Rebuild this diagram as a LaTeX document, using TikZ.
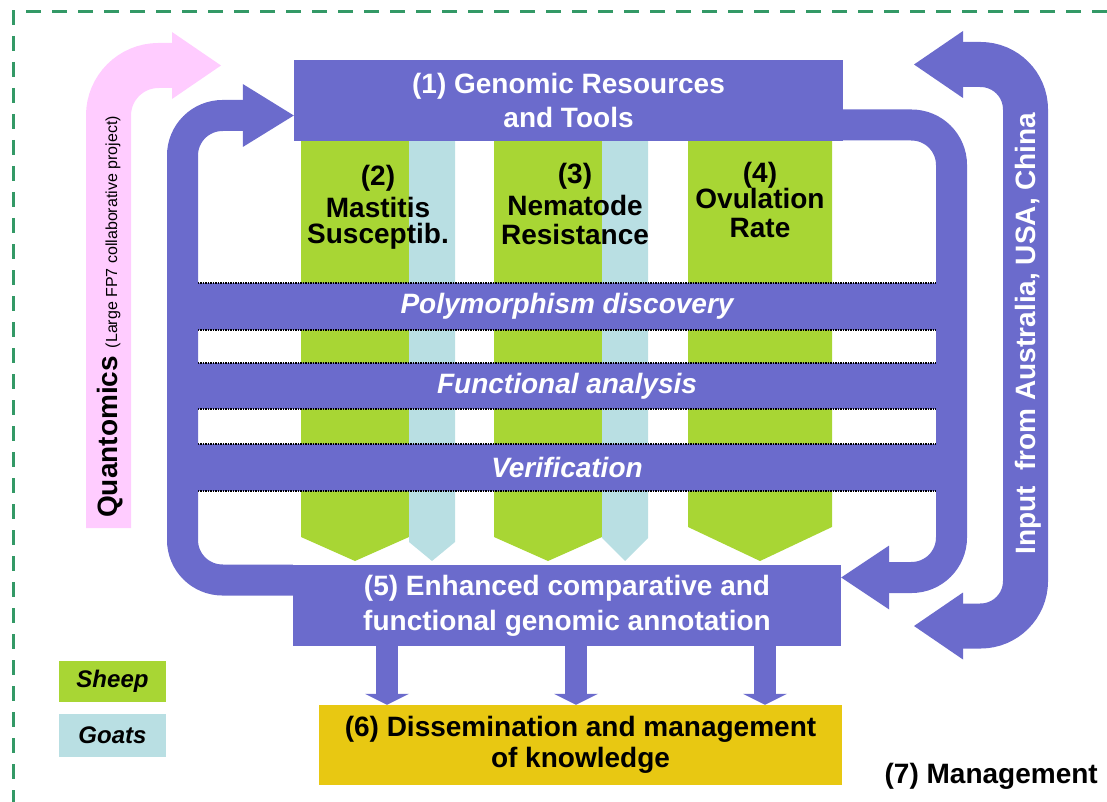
\documentclass[tikz,border=0pt]{standalone}
\usepackage{fontspec}
\setmainfont{Liberation Sans}
\usetikzlibrary{arrows.meta, positioning}

\definecolor{loopblue}{RGB}{107,107,204}
\definecolor{sheepgreen}{RGB}{168,214,52}
\definecolor{goatblue}{RGB}{185,223,227}
\definecolor{dissgold}{RGB}{232,200,18}
\definecolor{quantpink}{RGB}{255,204,255}
\definecolor{framegreen}{RGB}{51,153,102}

\begin{document}
\begin{tikzpicture}[x=1pt, y=-1pt,
    box/.style={fill=loopblue, text=white, align=center, inner sep=0pt,
      font=\bfseries\fontsize{28}{34}\selectfont},
    band/.style={fill=loopblue, text=white, inner sep=0pt, minimum width=738pt,
      font=\bfseries\itshape\fontsize{28}{34}\selectfont},
    coltext/.style={align=center, inner sep=0pt, anchor=north,
      font=\bfseries\fontsize{28}{29}\selectfont},
    legend/.style={inner sep=0pt, minimum width=107pt,
      font=\bfseries\itshape\fontsize{24}{28}\selectfont},
    dotline/.style={densely dotted, line width=1.5pt},
    loop/.style={draw=loopblue, line width=31pt, rounded corners=40pt},
    down/.style={draw=loopblue, line width=22pt,
      -{Triangle[length=11pt, width=44pt, line width=0pt]}}
  ]
    \useasboundingbox (0,0) rectangle (1107,802);

    % frame
    \draw[framegreen, line width=3pt, dash pattern=on 15pt off 11pt] (1107,12) -- (13,12) -- (13,802);

    % sheep and goat columns
    \foreach \l/\r/\s/\c in {301/409/537/sheepgreen, 409/455/542/goatblue,
        494/602/537/sheepgreen, 602/648/538/goatblue, 688/832/527/sheepgreen}
      \fill[\c] (\l,141) -- (\r,141) -- (\r,\s) -- ({(\l+\r)/2},561) -- (\l,\s) -- cycle;

    \node[band, minimum height=47pt] (poly) at (567,306.5) {Polymorphism discovery};
    \node[band, minimum height=46pt] (func) at (567,386) {Functional analysis};
    \node[band, minimum height=47pt] (verif) at (567,467.5) {Verification};
    \foreach \b in {poly, func, verif} {
      \draw[dotline] (\b.north west) -- (\b.north east);
      \draw[dotline] (\b.south west) -- (\b.south east);
    }

    \node[box, minimum width=549pt, minimum height=81pt] (gen) at (568.5,100.5) {(1) Genomic Resources\\and Tools};
    \node[box, minimum width=548pt, minimum height=81pt, font=\bfseries\fontsize{28}{35}\selectfont] (enh) at (567,605.5) {(5) Enhanced comparative and\\functional genomic annotation};
    \node[box, fill=dissgold, text=black, minimum width=523pt, minimum height=80pt, font=\bfseries\fontsize{28}{31}\selectfont] (dis) at (580.5,745) {(6) Dissemination and management\\of knowledge};

    % feedback loops
    \draw[loop, -{Triangle[length=51pt, width=63pt, line width=0pt]}]
      ([yshift=25.5pt]enh.west) -| (182.5,115.5) -- ([yshift=-15pt]gen.west);
    \draw[loop, -{Triangle[length=48pt, width=64pt, line width=0pt]}]
      ([yshift=-24.5pt]gen.east) -| (951.5,577.5) -- ([yshift=28pt]enh.east);

    \foreach \dx [count=\i] in {-180, 9, 198}
      \coordinate (d\i) at ([xshift=\dx pt]enh.south);
    \foreach \i in {1, 2, 3}
      \draw[down] (d\i) -- (d\i |- dis.north);

    \node[coltext] (mast) at (378,165) {(2)\\[3pt]Mastitis\\[-3pt]Susceptib.};
    \node[coltext] (nema) at (575,163) {(3)\\[3pt]Nematode\\Resistance};
    \node[coltext] (ovul) at (760,162) {(4)\\[-3pt]Ovulation\\Rate};

    % outside input
    \coordinate (qbase) at (108.5,528);
    \coordinate (qtip) at (221,65.5);
    \draw[quantpink, line width=45pt, rounded corners=50pt,
      -{Triangle[length=49pt, width=67pt, line width=0pt]}] (qbase) |- (qtip);
    \node[rotate=90, anchor=base west, inner sep=0pt] (quant) at (117,518)
      {\bfseries\fontsize{28}{30}\selectfont Quantomics\ {\mdseries\fontsize{16}{18}\selectfont (Large FP7 collaborative project)}};

    \coordinate (rtop) at (914,64.5);
    \coordinate (rbot) at (914,626);
    \draw[loopblue, line width=45pt, rounded corners=45pt,
      {Triangle[length=49pt, width=67pt, line width=0pt]}-{Triangle[length=49pt, width=67pt, line width=0pt]}]
      (rbot) -- (1025.5,626) -- (1025.5,64.5) -- (rtop);
    \node[rotate=90, anchor=base, inner sep=0pt, text=white, font=\bfseries\fontsize{28}{30}\selectfont] (input) at (1035,333.5)
      {Input\ \ from Australia, USA, China};

    % legend
    \node[legend, fill=sheepgreen, minimum height=41pt] (sheep) at (112.5,681.5) {Sheep};
    \node[legend, fill=goatblue, minimum height=43pt] (goats) at (112.5,735.5) {Goats};

    \node[anchor=base east, inner sep=0pt, font=\bfseries\fontsize{28}{30}\selectfont] (mgmt) at (1098,783) {(7) Management};
  \end{tikzpicture}
\end{document}
